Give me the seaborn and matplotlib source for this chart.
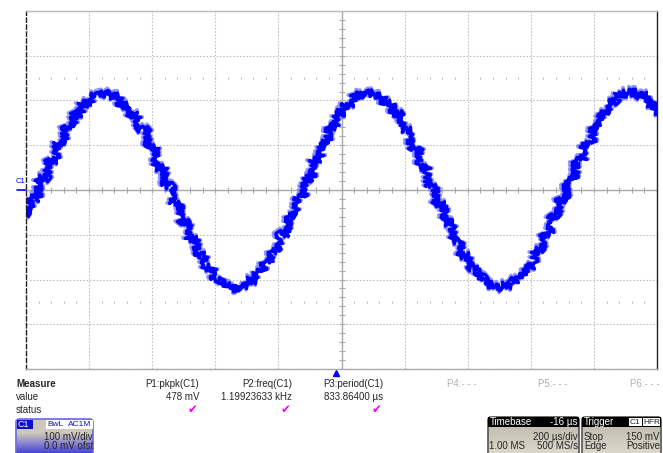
import numpy as np
import pandas as pd
import matplotlib
matplotlib.use('Agg')
import matplotlib.pyplot as plt
import matplotlib.transforms as mtransforms
from matplotlib.patches import FancyBboxPatch, Rectangle
import seaborn as sns

sns.set_style('white')
plt.rcParams['font.family'] = ['Liberation Sans', 'DejaVu Sans']

# trace: time from left edge (us), voltage (mV)
time_us = [0, 26, 52, 82, 108, 136, 160, 188, 216, 248, 280, 312, 338, 368, 396,
           424, 450, 476, 502, 526, 552, 578, 606, 632, 658, 684, 712, 738, 764, 790,
           816, 844, 868, 894, 918, 944, 970, 994, 1022, 1050, 1082, 1114, 1146, 1176,
           1204, 1232, 1258, 1284, 1310, 1338, 1364, 1390, 1414, 1442, 1468, 1494, 1520,
           1546, 1574, 1598, 1622, 1650, 1674, 1700, 1726, 1754, 1780, 1806, 1832, 1860,
           1886, 1918, 1950, 1978, 2000]
volt_mv = [-52, -18, 27, 67, 108, 146, 172, 194, 213, 217, 211, 191, 168, 136, 97,
           51, 11, -30, -69, -108, -146, -172, -198, -213, -220, -213, -202, -183, -161, -135,
           -97, -56, -15, 26, 67, 105, 142, 174, 194, 213, 220, 211, 194, 172,
           135, 93, 51, 9, -31, -71, -111, -146, -172, -194, -209, -217, -213,
           -202, -187, -168, -135, -97, -56, -19, 26, 67, 105, 142, 172, 198,
           217, 220, 213, 194, 176]

meas_names = ['P1:pkpk(C1)', 'P2:freq(C1)', 'P3:period(C1)']
meas_values = ['478 mV', '1.19923633 kHz', '833.86400 µs']
meas_empty = ['P4:- - -', 'P5:- - -', 'P6:- - -']

volts_per_div = 100
time_per_div = 200
trigger_delay_us = -16

df = pd.DataFrame({'t': time_us, 'v': volt_mv})

W, H = 663, 453
fig = plt.figure(figsize=(W / 100, H / 100), dpi=100)
fig.patch.set_facecolor('white')

# overlay in pixel coordinates for the panel texts
ov = fig.add_axes([0, 0, 1, 1])
ov.set_xlim(0, W)
ov.set_ylim(H, 0)
ov.axis('off')

x0, x1, y0, y1 = 26, 657, 11, 369
ax = fig.add_axes([x0 / W, (H - y1) / H, (x1 - x0) / W, (y1 - y0) / H])
ax.set_facecolor('none')

t_span = 10 * time_per_div
v_half = 4 * volts_per_div
ax.set_xlim(0, t_span)
ax.set_ylim(-v_half, v_half)
ax.set_xticks(np.arange(0, t_span + 1, time_per_div))
ax.set_yticks(np.arange(-v_half, v_half + 1, volts_per_div))
ax.tick_params(length=0, labelbottom=False, labelleft=False)
ax.grid(True, color='#c0c0c0', linestyle=(0, (1.5, 1.5)), linewidth=0.8)

for s in ax.spines.values():
    s.set_linewidth(1.0)
ax.spines['left'].set_color('#222222')
ax.spines['left'].set_linestyle((0, (3, 2)))
ax.spines['right'].set_color('#222222')
ax.spines['top'].set_color('#bbbbbb')
ax.spines['bottom'].set_color('#aaaaaa')

# centre cross with minor ticks
ax.axhline(0, color='#aaaaaa', lw=1, zorder=1)
ax.axvline(t_span / 2, color='#aaaaaa', lw=1, zorder=1)
minor_t = np.arange(0, t_span + 1, time_per_div / 5)
minor_v = np.arange(-v_half, v_half + 1, volts_per_div / 5)
ax.plot(minor_t, np.zeros_like(minor_t), ls='none', marker='|', ms=4, mew=0.8, color='#aaaaaa', zorder=1)
ax.plot(np.full_like(minor_v, t_span / 2), minor_v, ls='none', marker='_', ms=4, mew=0.8, color='#aaaaaa', zorder=1)
for yv in (2.5 * volts_per_div, -2.5 * volts_per_div):
    ax.plot(minor_t, np.full_like(minor_t, yv), ls='none', marker='|', ms=2, mew=0.8, color='#bbbbbb', zorder=1)

# trace: light halo + core, jittered to look like the scope noise
sns.lineplot(data=df, x='t', y='v', ax=ax, color='#7a7aff', lw=2.6, alpha=0.8,
             drawstyle='steps-mid', estimator=None, sort=False, legend=False)
ax.lines[-1].set_sketch_params(scale=5.5, length=0.6, randomness=1.5)
sns.lineplot(data=df, x='t', y='v', ax=ax, color='#0000ff', lw=2.4,
             drawstyle='steps-mid', estimator=None, sort=False, legend=False)
ax.lines[-1].set_sketch_params(scale=3.5, length=0.6, randomness=1.5)
ax.set_xlabel('')
ax.set_ylabel('')

# channel marker on the left and trigger marker below
trans_y = mtransforms.blended_transform_factory(ov.transData, ax.transData)
ax.plot([17, 26], [0, 0], color='#0000ff', lw=1.2, transform=trans_y, clip_on=False)
ax.text(16, 12, 'C1', color='#0000ff', fontsize=5.5, transform=trans_y, va='bottom', ha='left')
trans_x = mtransforms.blended_transform_factory(ax.transData, ov.transData)
ax.plot([t_span / 2 + trigger_delay_us], [373], marker='^', ms=5,
        color='#0000ff', transform=trans_x, clip_on=False)

fs = 7
ov.text(16, 384, 'Measure', fontsize=fs, fontweight='bold', va='center')
ov.text(16, 397, 'value', fontsize=fs, va='center')
ov.text(16, 410, 'status', fontsize=fs, va='center')
for xr, name, val in zip([199, 292, 383], meas_names, meas_values):
    ov.text(xr, 384, name, fontsize=fs, va='center', ha='right')
    ov.text(xr, 397, val, fontsize=fs, va='center', ha='right')
    ov.text(xr - 6, 410, '✔', fontsize=8.5, va='center', ha='center', color='#ee00ee',
            family='DejaVu Sans')
for xl, name in zip([447, 538, 630], meas_empty):
    ov.text(xl, 384, name, fontsize=fs, va='center', ha='left', color='#b0b0b0')


def gradient_box(x, y, w, h, c_top, c_bot, edge, split=0.0):
    box = FancyBboxPatch((x, y), w, h, boxstyle='round,pad=0,rounding_size=3',
                         fc='none', ec=edge, lw=1.2, zorder=3)
    ov.add_patch(box)
    n = 64
    f = np.clip((np.linspace(0, 1, n) - split) / (1 - split), 0, 1)
    grad = np.array(c_top)[None, :] * (1 - f[:, None]) + np.array(c_bot)[None, :] * f[:, None]
    im = ov.imshow(grad[:, None, :] / 255.0, extent=[x, x + w, y + h, y], aspect='auto',
                   zorder=2, interpolation='bilinear')
    im.set_clip_path(box)
    ov.set_xlim(0, W)
    ov.set_ylim(H, 0)


# C1 channel box
gradient_box(16, 419, 77, 40, (205, 200, 188), (30, 30, 225), '#6a6ae6', split=0.35)
ov.add_patch(Rectangle((17, 420), 16, 9, fc='#1010c8', ec='none', zorder=4))
ov.text(18, 424.8, 'C1', color='white', fontsize=6.5, va='center', zorder=5)
ov.add_patch(Rectangle((46, 420), 20.5, 9, fc='white', ec='none', zorder=4))
ov.add_patch(Rectangle((67, 420), 26, 9, fc='white', ec='none', zorder=4))
ov.text(56, 424.8, 'BwL', color='#1010d0', fontsize=6, va='center', ha='center', zorder=5)
ov.text(80, 424.8, 'AC1M', color='#1010d0', fontsize=6, va='center', ha='center', zorder=5)
ov.text(93, 437, f'{volts_per_div} mV/div', fontsize=fs, va='center', ha='right', zorder=5)
ov.text(93, 446, '0.0 mV ofst', fontsize=fs, va='center', ha='right', zorder=5)

# timebase box
gradient_box(488, 417, 91, 42, (185, 180, 165), (225, 222, 210), '#555555')
ov.add_patch(Rectangle((488, 417), 91, 10, fc='black', ec='none', zorder=4))
ov.text(490, 422, 'Timebase', color='white', fontsize=fs, va='center', zorder=5)
ov.text(578, 422, f'{trigger_delay_us} µs', color='white', fontsize=fs, va='center', ha='right', zorder=5)
ov.text(578, 437, f'{time_per_div} µs/div', fontsize=fs, va='center', ha='right', zorder=5)
ov.text(489, 446, '1.00 MS', fontsize=fs, va='center', zorder=5)
ov.text(578, 446, '500 MS/s', fontsize=fs, va='center', ha='right', zorder=5)

# trigger box
gradient_box(582, 417, 79, 42, (185, 180, 165), (225, 222, 210), '#555555')
ov.add_patch(Rectangle((582, 417), 79, 10, fc='black', ec='none', zorder=4))
ov.text(584, 422, 'Trigger', color='white', fontsize=fs, va='center', zorder=5)
ov.add_patch(Rectangle((629, 418), 13, 8, fc='white', ec='none', zorder=4))
ov.add_patch(Rectangle((643, 418), 17, 8, fc='white', ec='none', zorder=4))
ov.text(635.5, 422, 'C1', fontsize=6, va='center', ha='center', zorder=5)
ov.text(651.5, 422, 'HFR', fontsize=6, va='center', ha='center', zorder=5)
ov.text(584, 437, 'Stop', fontsize=fs, va='center', zorder=5)
ov.text(660, 437, '150 mV', fontsize=fs, va='center', ha='right', zorder=5)
ov.text(584, 446, 'Edge', fontsize=fs, va='center', zorder=5)
ov.text(660, 446, 'Positive', fontsize=fs, va='center', ha='right', zorder=5)

fig.savefig('out.png', dpi=100)
